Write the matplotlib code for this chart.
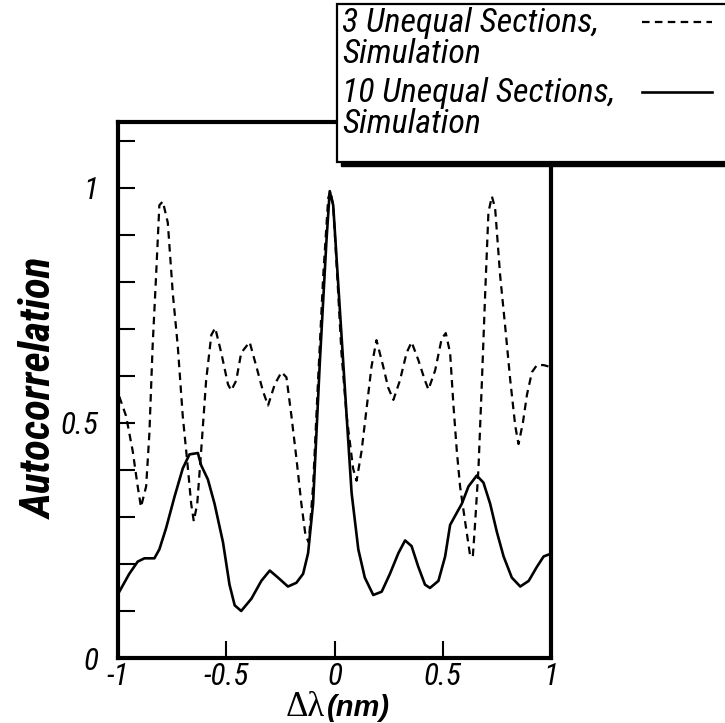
import matplotlib
matplotlib.use("Agg")
import matplotlib.pyplot as plt
from matplotlib.ticker import MultipleLocator, FixedLocator
from matplotlib.patches import Rectangle
from matplotlib.lines import Line2D

plt.rcParams['axes.unicode_minus'] = False

# ---- data ----
x_three = [-0.994, -0.963, -0.932, -0.909, -0.894, -0.870, -0.855, -0.840, -0.824, -0.809,
           -0.793, -0.770, -0.747, -0.724, -0.701, -0.677, -0.662, -0.650, -0.634, -0.616,
           -0.593, -0.569, -0.551, -0.523, -0.492, -0.477, -0.454, -0.431, -0.392, -0.361,
           -0.330, -0.307, -0.276, -0.245, -0.222, -0.199, -0.176, -0.153, -0.134, -0.119,
           -0.099, -0.076, -0.052, -0.029, -0.019, -0.006, 0.017, 0.032, 0.056, 0.086,
           0.102, 0.125, 0.148, 0.171, 0.194, 0.225, 0.248, 0.272, 0.302, 0.333,
           0.356, 0.387, 0.418, 0.434, 0.465, 0.495, 0.514, 0.534, 0.549, 0.565,
           0.580, 0.603, 0.627, 0.639, 0.650, 0.665, 0.681, 0.696, 0.711, 0.727,
           0.742, 0.765, 0.789, 0.812, 0.835, 0.850, 0.870, 0.889, 0.912, 0.935,
           0.966, 0.989]
y_three = [0.556, 0.515, 0.440, 0.365, 0.321, 0.365, 0.478, 0.664, 0.814, 0.963,
           0.971, 0.926, 0.776, 0.664, 0.515, 0.403, 0.328, 0.291, 0.328, 0.440,
           0.590, 0.687, 0.702, 0.649, 0.582, 0.569, 0.590, 0.649, 0.672, 0.620,
           0.567, 0.537, 0.582, 0.608, 0.597, 0.515, 0.425, 0.328, 0.261, 0.246,
           0.365, 0.590, 0.814, 0.978, 0.993, 0.963, 0.776, 0.650, 0.515, 0.403,
           0.377, 0.440, 0.530, 0.620, 0.676, 0.620, 0.575, 0.549, 0.590, 0.649,
           0.672, 0.634, 0.590, 0.571, 0.612, 0.679, 0.691, 0.649, 0.540, 0.440,
           0.365, 0.291, 0.216, 0.216, 0.291, 0.403, 0.590, 0.776, 0.948, 0.982,
           0.956, 0.814, 0.702, 0.590, 0.493, 0.455, 0.500, 0.560, 0.608, 0.623,
           0.623, 0.620]

x_ten = [-0.994, -0.948, -0.909, -0.878, -0.832, -0.809, -0.778, -0.739, -0.701, -0.670,
         -0.631, -0.616, -0.585, -0.554, -0.515, -0.485, -0.461, -0.431, -0.384, -0.338,
         -0.299, -0.261, -0.215, -0.176, -0.145, -0.122, -0.099, -0.068, -0.037, -0.022,
         -0.006, 0.025, 0.056, 0.079, 0.110, 0.140, 0.179, 0.218, 0.256, 0.295,
         0.326, 0.356, 0.387, 0.418, 0.441, 0.480, 0.511, 0.534, 0.565, 0.588,
         0.619, 0.657, 0.688, 0.719, 0.750, 0.781, 0.819, 0.858, 0.897, 0.935,
         0.966, 0.989]
y_ten = [0.141, 0.179, 0.205, 0.212, 0.212, 0.231, 0.276, 0.343, 0.403, 0.433,
         0.436, 0.410, 0.380, 0.328, 0.246, 0.156, 0.112, 0.100, 0.126, 0.164,
         0.186, 0.171, 0.152, 0.160, 0.179, 0.223, 0.328, 0.627, 0.889, 0.993,
         0.963, 0.739, 0.515, 0.351, 0.231, 0.171, 0.134, 0.141, 0.179, 0.223,
         0.250, 0.238, 0.194, 0.156, 0.149, 0.164, 0.216, 0.283, 0.309, 0.328,
         0.365, 0.388, 0.373, 0.328, 0.268, 0.216, 0.171, 0.152, 0.164, 0.194,
         0.216, 0.220]

legend_labels = ["3 Unequal Sections,\nSimulation", "10 Unequal Sections,\nSimulation"]
x_ticks = [-1, -0.5, 0, 0.5, 1]
x_tick_labels = ["-1", "-0.5", "0", "0.5", "1"]
y_ticks = [0, 0.5, 1]
y_tick_labels = ["0", "0.5", "1"]

cond = ['Roboto Condensed', 'Liberation Sans', 'DejaVu Sans']

W, H = 725, 723
def fx(px):
    return px / W
def fy(py):
    return 1 - py / H

fig = plt.figure(figsize=(W / 100, H / 100), dpi=100)
ax = fig.add_axes([fx(118), fy(658), (551 - 118) / W, (658 - 122) / H])

dash_style = (0, (3.4, 2.4))
l1, = ax.plot(x_three, y_three, color='black', lw=1.6, ls=dash_style)
l2, = ax.plot(x_ten, y_ten, color='black', lw=1.9)

ax.set_xlim(-1, 1)
ax.set_ylim(0, 1.14)

ax.xaxis.set_major_locator(FixedLocator(x_ticks))
ax.set_xticklabels(x_tick_labels)
ax.yaxis.set_major_locator(FixedLocator(y_ticks))
ax.set_yticklabels(y_tick_labels)
ax.yaxis.set_minor_locator(MultipleLocator(0.1))

for s in ax.spines.values():
    s.set_linewidth(3.0)

ax.tick_params(axis='both', which='both', direction='in', top=False, right=False,
               width=1.5, length=12)
ax.tick_params(axis='x', pad=3)
ax.tick_params(axis='y', pad=14)
for lab in ax.get_xticklabels() + ax.get_yticklabels():
    lab.set_family(cond)
    lab.set_style('italic')
    lab.set_fontsize(22.5)

# y label
fig.text(fx(40), fy(388), "Autocorrelation", rotation=90, ha='center', va='center',
         family=cond, style='italic', weight='bold', fontsize=31)
# x label
fig.text(fx(325), fy(716), "\u0394\u03bb", ha='right', va='baseline',
         family=['Liberation Serif', 'DejaVu Serif'], fontsize=25)
fig.text(fx(327), fy(716), "(nm)", ha='left', va='baseline',
         family=['Liberation Sans', 'DejaVu Sans'], style='italic', weight='bold', fontsize=21)

# legend box (drawn above the axes, cut by the figure edge as in the reference)
box_l, box_t, box_r, box_b = 337, 4, 760, 162
shadow = Rectangle((fx(box_l + 4), fy(box_b + 4)), (box_r - box_l) / W, (box_b - box_t) / H,
                   transform=fig.transFigure, facecolor='black', edgecolor='black', zorder=5)
frame = Rectangle((fx(box_l), fy(box_b)), (box_r - box_l) / W, (box_b - box_t) / H,
                  transform=fig.transFigure, facecolor='white', edgecolor='black', lw=1.6, zorder=6)
fig.patches.extend([shadow, frame])

entry_tops = [7, 77]
handle_styles = [dict(ls=dash_style, lw=1.6), dict(ls='-', lw=1.9)]
for lab, top, st in zip(legend_labels, entry_tops, handle_styles):
    fig.text(fx(342), fy(top), lab, ha='left', va='top', family=cond, style='italic',
             fontsize=24.5, linespacing=0.95, zorder=7)
    yline = top + 15
    fig.lines.append(Line2D([fx(642), fx(712)], [fy(yline), fy(yline)], transform=fig.transFigure,
                            color='black', zorder=7, **st))

fig.savefig("out.png", dpi=100)
